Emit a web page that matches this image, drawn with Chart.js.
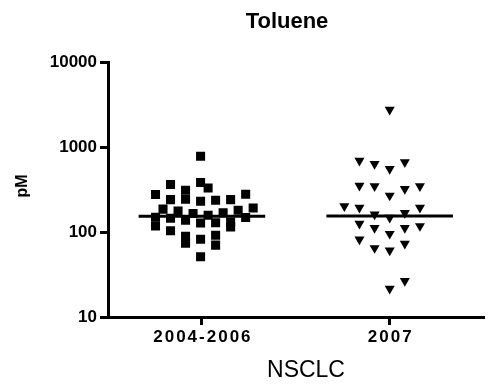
<!DOCTYPE html>
<html>
<head>
<meta charset="utf-8">
<script src="https://cdn.jsdelivr.net/npm/chart.js@4"></script>
<style>
  html, body { margin: 0; padding: 0; background: #fff; }
  #wrap { width: 490px; height: 388px; }
</style>
</head>
<body>
<div id="wrap"><canvas id="plot" width="490" height="388"></canvas></div>
<script>
// values (pM)
const groups = ['2004-2006', '2007'];
const yTicks = [10, 100, 1000, 10000];

const toluene0406 = [783, 364, 384, 332, 278, 312, 244, 242, 232, 238, 242, 280, 193,
    187, 178, 166, 158, 169, 181, 150, 118, 146, 138, 128, 129, 132, 115, 149,
    104, 89.7, 74.2, 82.7, 92.2, 70.3, 51.2];
// column slot of each point in the scatter (GraphPad style spread)
const slots0406 = [0, -4, 0, 1, -6, -2, -2, -4, 0, 2, 4, 6, 7,
    -5, -3, -1, 1, 3, 5, -6, -6, -4, -2, 0, 2, 4, 4, 6,
    -4, -2, -2, 0, 2, 2, 0];

const toluene2007 = [2778, 698, 638, 557, 668, 354, 349, 270, 324, 349,
    203, 194, 162, 148, 169, 194, 126, 112, 95.7, 112, 118,
    82, 65, 61, 73, 21.6, 26.6];
const slots2007 = [0, -2, -1, 0, 1, -2, -1, 0, 1, 2,
    -3, -2, -1, 0, 1, 2, -2, -1, 0, 1, 2,
    -2, -1, 0, 1, 0, 1];

const medians = [154, 155];

const ctx = document.querySelector('#plot').getContext('2d');

const toPoints = (vals, slots, center, step) =>
    vals.map((v, i) => ({ x: center + slots[i] * step, y: v }));

const medianLine = (i) => ({
    data: [{ x: i + 1 - 0.337, y: medians[i] }, { x: i + 1 + 0.337, y: medians[i] }],
    showLine: true,
    borderColor: '#000',
    borderWidth: 3,
    pointRadius: 0,
    order: 0
});

const textPlugin = {
    id: 'texts',
    afterDraw(chart) {
        const c = chart.ctx;
        const xs = chart.scales.x;
        c.save();
        c.fillStyle = '#000';
        c.textAlign = 'center';
        c.textBaseline = 'middle';

        c.font = 'bold 22px "Liberation Sans", Arial, sans-serif';
        c.fillText('Toluene', 287, 22);

        c.font = '23px "Liberation Sans", Arial, sans-serif';
        c.fillText('NSCLC', 306, 371);

        // x tick labels, spaced out like the original
        c.font = 'bold 17px "Liberation Sans", Arial, sans-serif';
        c.letterSpacing = '2px';
        groups.forEach((g, i) => {
            c.fillText(g, xs.getPixelForValue(i + 1) + 1, 337);
        });
        c.letterSpacing = '0px';

        c.translate(23, 186);
        c.rotate(-Math.PI / 2);
        c.font = 'bold 16px "Liberation Sans", Arial, sans-serif';
        c.fillText('pM', 0, 0);
        c.restore();
    }
};

new Chart(ctx, {
    type: 'scatter',
    data: {
        datasets: [
            {
                data: toPoints(toluene0406, slots0406, 0.993, 0.04),
                pointStyle: 'rect',
                pointRadius: 6.4,
                pointHoverRadius: 6.4,
                backgroundColor: '#000',
                borderColor: '#000',
                borderWidth: 0,
                order: 1
            },
            {
                data: toPoints(toluene2007, slots2007, 2, 0.0805),
                pointStyle: 'triangle',
                rotation: 180,
                pointRadius: 5.8,
                pointHoverRadius: 5.8,
                backgroundColor: '#000',
                borderColor: '#000',
                borderWidth: 0,
                order: 1
            },
            medianLine(0),
            medianLine(1)
        ]
    },
    options: {
        responsive: false,
        animation: false,
        devicePixelRatio: 1,
        layout: { padding: { top: 62.5, right: 1, bottom: 0, left: 0 } },
        plugins: {
            legend: { display: false },
            tooltip: { enabled: false },
            title: { display: false }
        },
        scales: {
            x: {
                type: 'linear',
                min: 0.5,
                max: 2.5,
                afterBuildTicks: s => { s.ticks = [{ value: 1 }, { value: 2 }]; },
                afterFit: s => { s.height = 71; },
                ticks: { display: false },
                grid: {
                    drawOnChartArea: false,
                    drawTicks: true,
                    tickLength: 8,
                    color: '#000',
                    lineWidth: 3
                },
                border: { display: true, color: '#000', width: 3 }
            },
            y: {
                type: 'logarithmic',
                min: 10,
                max: 10000,
                afterBuildTicks: s => { s.ticks = yTicks.map(v => ({ value: v })); },
                afterFit: s => { s.width = 108; },
                ticks: {
                    color: '#000',
                    padding: 3,
                    font: { family: '"Liberation Sans", Arial, sans-serif', size: 17, weight: 'bold' },
                    callback: v => String(v)
                },
                grid: {
                    drawOnChartArea: false,
                    drawTicks: true,
                    tickLength: 8,
                    color: '#000',
                    lineWidth: 3
                },
                border: { display: true, color: '#000', width: 3 }
            }
        }
    },
    plugins: [textPlugin]
});
</script>
</body>
</html>
